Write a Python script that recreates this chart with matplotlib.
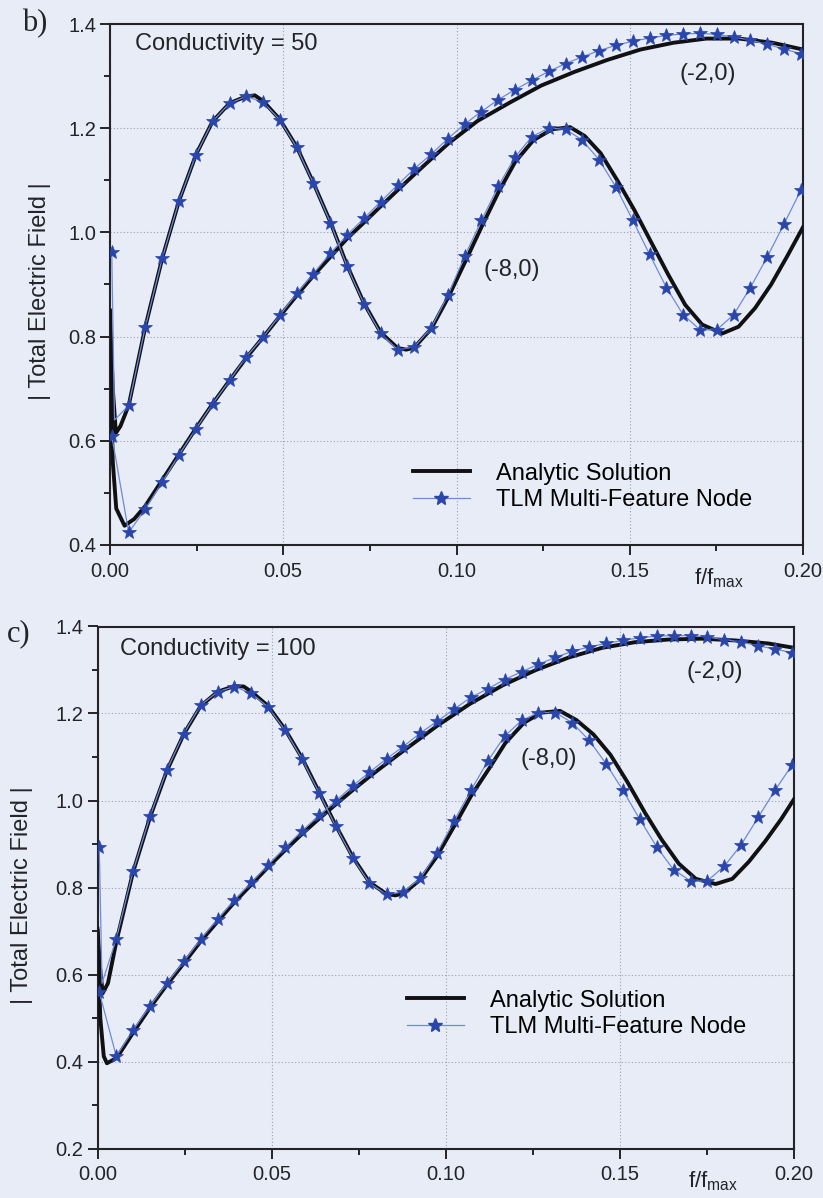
import matplotlib
matplotlib.use("Agg")
import matplotlib.pyplot as plt
from matplotlib.lines import Line2D
from matplotlib.ticker import MultipleLocator, FormatStrFormatter

# ---------------------------------------------------------------------------
# Data: |E| versus normalised frequency f/f_max at observation points (-2,0)
# and (-8,0); analytic solution vs TLM multi-feature node.
# ---------------------------------------------------------------------------

# TLM sample frequencies (same sampling in both panels)
tlm_f = [0.0005, 0.0054, 0.0102, 0.0151, 0.0199, 0.0248, 0.0296, 0.0345,
         0.0393, 0.0442, 0.0490, 0.0539, 0.0587, 0.0636, 0.0684, 0.0733,
         0.0781, 0.0830, 0.0878, 0.0927, 0.0975, 0.1024, 0.1072, 0.1121,
         0.1169, 0.1218, 0.1266, 0.1315, 0.1363, 0.1412, 0.1460, 0.1509,
         0.1557, 0.1606, 0.1654, 0.1703, 0.1751, 0.1800, 0.1848, 0.1897,
         0.1945, 0.1994]

# Unmarked TLM sample between the first two markers of the (-8,0) trace
tlm_dip_f = 0.0013
b_tlm_m8_dip = 0.640
c_tlm_m8_dip = 0.580

# Conductivity = 50
b_tlm_m8 = [0.963, 0.668, 0.819, 0.951, 1.060, 1.149, 1.213, 1.248, 1.261,
            1.250, 1.216, 1.163, 1.094, 1.019, 0.935, 0.863, 0.806, 0.775,
            0.780, 0.817, 0.879, 0.955, 1.023, 1.089, 1.145, 1.184, 1.200,
            1.198, 1.177, 1.139, 1.087, 1.023, 0.958, 0.894, 0.842, 0.813,
            0.813, 0.842, 0.894, 0.953, 1.016, 1.081]
b_tlm_m2 = [0.610, 0.424, 0.469, 0.521, 0.573, 0.623, 0.671, 0.716, 0.761,
            0.799, 0.841, 0.883, 0.921, 0.960, 0.995, 1.027, 1.059, 1.091,
            1.122, 1.150, 1.180, 1.208, 1.232, 1.255, 1.274, 1.292, 1.309,
            1.324, 1.337, 1.349, 1.359, 1.367, 1.373, 1.378, 1.381, 1.382,
            1.380, 1.375, 1.369, 1.361, 1.352, 1.343]

b_ana_m8_f = [0.0000, 0.0008, 0.0017, 0.0030, 0.0054, 0.0102, 0.0151, 0.0199,
              0.0248, 0.0296, 0.0345, 0.0393, 0.0418, 0.0442, 0.0490, 0.0539,
              0.0587, 0.0636, 0.0684, 0.0733, 0.0781, 0.0830, 0.0855, 0.0878,
              0.0927, 0.0975, 0.1026, 0.1074, 0.1121, 0.1169, 0.1222, 0.1276,
              0.1328, 0.1370, 0.1416, 0.1464, 0.1514, 0.1562, 0.1611, 0.1660,
              0.1709, 0.1767, 0.1814, 0.1862, 0.1908, 0.1955, 0.2000]
b_ana_m8 = [0.850, 0.700, 0.615, 0.628, 0.668, 0.819, 0.951, 1.060,
            1.149, 1.213, 1.248, 1.261, 1.263, 1.252, 1.217, 1.164,
            1.095, 1.020, 0.937, 0.864, 0.808, 0.778, 0.775, 0.779,
            0.815, 0.874, 0.945, 1.013, 1.077, 1.135, 1.177, 1.198,
            1.202, 1.185, 1.152, 1.100, 1.042, 0.981, 0.919, 0.861,
            0.823, 0.806, 0.819, 0.855, 0.900, 0.955, 1.010]

b_ana_m2_f = [0.0000, 0.0008, 0.0018, 0.0042, 0.0070, 0.0102, 0.0151, 0.0199,
              0.0248, 0.0296, 0.0345, 0.0393, 0.0442, 0.0490, 0.0539, 0.0587,
              0.0636, 0.0684, 0.0733, 0.0781, 0.0830, 0.0878, 0.0927, 0.0977,
              0.1061, 0.1156, 0.1245, 0.1340, 0.1435, 0.1531, 0.1626, 0.1721,
              0.1816, 0.1912, 0.2000]
b_ana_m2 = [0.800, 0.560, 0.470, 0.437, 0.450, 0.475, 0.525, 0.574,
            0.624, 0.671, 0.716, 0.759, 0.799, 0.839, 0.879, 0.917,
            0.953, 0.988, 1.019, 1.050, 1.081, 1.111, 1.141, 1.171,
            1.214, 1.250, 1.282, 1.308, 1.331, 1.351, 1.364, 1.372,
            1.372, 1.364, 1.351]

# Conductivity = 100
c_tlm_m8 = [0.892, 0.682, 0.837, 0.964, 1.070, 1.154, 1.219, 1.250, 1.262,
            1.246, 1.215, 1.161, 1.096, 1.018, 0.941, 0.868, 0.810, 0.784,
            0.790, 0.821, 0.880, 0.953, 1.023, 1.091, 1.148, 1.184, 1.202,
            1.202, 1.179, 1.138, 1.085, 1.023, 0.957, 0.893, 0.841, 0.815,
            0.815, 0.849, 0.898, 0.961, 1.023, 1.081]
c_tlm_m2 = [0.560, 0.412, 0.472, 0.528, 0.580, 0.630, 0.681, 0.727, 0.771,
            0.812, 0.852, 0.892, 0.930, 0.966, 0.999, 1.034, 1.065, 1.096,
            1.124, 1.155, 1.182, 1.210, 1.237, 1.257, 1.278, 1.296, 1.313,
            1.329, 1.343, 1.353, 1.361, 1.368, 1.374, 1.378, 1.379, 1.379,
            1.376, 1.370, 1.364, 1.356, 1.348, 1.340]

c_ana_m8_f = [0.0000, 0.0008, 0.0015, 0.0030, 0.0054, 0.0102, 0.0151, 0.0199,
              0.0248, 0.0296, 0.0345, 0.0393, 0.0420, 0.0442, 0.0490, 0.0539,
              0.0587, 0.0636, 0.0684, 0.0733, 0.0781, 0.0830, 0.0855, 0.0878,
              0.0927, 0.0974, 0.1027, 0.1073, 0.1125, 0.1171, 0.1225, 0.1275,
              0.1328, 0.1375, 0.1424, 0.1473, 0.1522, 0.1572, 0.1620, 0.1669,
              0.1718, 0.1775, 0.1823, 0.1870, 0.1917, 0.1963, 0.2000]
c_ana_m8 = [0.705, 0.610, 0.557, 0.580, 0.675, 0.835, 0.962, 1.068,
            1.153, 1.217, 1.250, 1.263, 1.262, 1.250, 1.217, 1.163,
            1.098, 1.020, 0.943, 0.870, 0.812, 0.785, 0.782, 0.786,
            0.818, 0.871, 0.945, 1.011, 1.074, 1.132, 1.179, 1.202,
            1.206, 1.185, 1.152, 1.105, 1.042, 0.972, 0.910, 0.855,
            0.820, 0.808, 0.820, 0.859, 0.906, 0.957, 1.003]

c_ana_m2_f = [0.0000, 0.0008, 0.0018, 0.0027, 0.0055, 0.0102, 0.0151, 0.0199,
              0.0248, 0.0296, 0.0345, 0.0393, 0.0442, 0.0490, 0.0539, 0.0587,
              0.0636, 0.0684, 0.0733, 0.0781, 0.0830, 0.0878, 0.0927, 0.0974,
              0.1069, 0.1164, 0.1259, 0.1354, 0.1449, 0.1544, 0.1639, 0.1734,
              0.1830, 0.1926, 0.2000]
c_ana_m2 = [0.700, 0.500, 0.412, 0.396, 0.408, 0.466, 0.524, 0.576,
            0.626, 0.676, 0.722, 0.766, 0.807, 0.847, 0.886, 0.923,
            0.958, 0.991, 1.024, 1.055, 1.085, 1.114, 1.143, 1.171,
            1.222, 1.265, 1.300, 1.329, 1.351, 1.364, 1.370, 1.372,
            1.368, 1.361, 1.351]

legend_labels = ["Analytic Solution", "TLM Multi-Feature Node"]
point_labels = ["(-2,0)", "(-8,0)"]

# ---------------------------------------------------------------------------
plt.rcParams["font.family"] = ["Liberation Sans", "DejaVu Sans"]
plt.rcParams["mathtext.fontset"] = "custom"
plt.rcParams["mathtext.rm"] = "Liberation Sans"
plt.rcParams["mathtext.it"] = "Liberation Sans"

W, H = 823, 1198
BG = "#e7ecf7"
INK = "#232328"
BLACK_LINE = "#111114"
STAR = "#2a46aa"
THIN = "#6f8ad8"

fig = plt.figure(figsize=(W / 100, H / 100), dpi=100)
fig.patch.set_facecolor(BG)


def fx(x):
    return x / W


def fy(y):
    return 1 - y / H


def make_axes(left, top, right, bottom, ylo):
    ax = fig.add_axes([fx(left), fy(bottom), (right - left) / W, (bottom - top) / H])
    ax.set_facecolor(BG)
    ax.set_xlim(0, 0.2)
    ax.set_ylim(ylo, 1.4)
    ax.xaxis.set_major_locator(MultipleLocator(0.05))
    ax.xaxis.set_minor_locator(MultipleLocator(0.025))
    ax.yaxis.set_major_locator(MultipleLocator(0.2))
    ax.yaxis.set_minor_locator(MultipleLocator(0.1))
    ax.xaxis.set_major_formatter(FormatStrFormatter("%.2f"))
    ax.yaxis.set_major_formatter(FormatStrFormatter("%.1f"))
    ax.tick_params(which="both", direction="out", colors=INK, width=1.4,
                   top=False, right=False)
    ax.tick_params(which="major", length=7, labelsize=14.5)
    ax.tick_params(which="minor", length=4)
    ax.tick_params(axis="x", which="major", pad=5)
    ax.tick_params(axis="y", which="major", pad=3)
    for s in ax.spines.values():
        s.set_color(INK)
        s.set_linewidth(1.5)
    ax.grid(True, which="major", linestyle=(0, (1, 2)), linewidth=0.8,
            color="#9aa0b4")
    ax.set_axisbelow(True)
    return ax


def draw_panel(ax, ana_m2_f, ana_m2, ana_m8_f, ana_m8, tlm_m2, tlm_m8, dip):
    for af, av in ((ana_m2_f, ana_m2), (ana_m8_f, ana_m8)):
        ax.plot(af, av, color=BLACK_LINE, lw=2.8, solid_joinstyle="round",
                zorder=3)
    style = dict(color=THIN, lw=0.9, marker="*", ms=10.5, mfc=STAR, mec=STAR,
                 mew=0.5, zorder=4)
    ax.plot(tlm_f, tlm_m2, **style)
    # (-8,0) trace: the unmarked sample sits between the first two markers
    f8 = [tlm_f[0], tlm_dip_f] + tlm_f[1:]
    v8 = [tlm_m8[0], dip] + tlm_m8[1:]
    ax.plot(f8, v8, markevery=[0] + list(range(2, len(f8))), **style)


def add_legend(ax, x_left, y_mid):
    handles = [Line2D([], [], color=BLACK_LINE, lw=2.8),
               Line2D([], [], color=THIN, lw=0.9, marker="*", ms=10.5,
                      mfc=STAR, mec=STAR)]
    ax.legend(handles, legend_labels, loc="center left",
              bbox_to_anchor=(fx(x_left), fy(y_mid)),
              bbox_transform=fig.transFigure, frameon=False, borderpad=0,
              borderaxespad=0, handlelength=2.4, handletextpad=1.1,
              labelspacing=0.2, fontsize=17)


# ---- panel b: conductivity 50 ----
ax_b = make_axes(110, 24, 803, 545, 0.4)
draw_panel(ax_b, b_ana_m2_f, b_ana_m2, b_ana_m8_f, b_ana_m8, b_tlm_m2, b_tlm_m8,
           b_tlm_m8_dip)
add_legend(ax_b, 413, 487)
fig.text(fx(135), fy(44), "Conductivity = 50", fontsize=17, color=INK,
         ha="left", va="center")
fig.text(fx(708), fy(74), point_labels[0], fontsize=17, color=INK,
         ha="center", va="center")
fig.text(fx(512), fy(270), point_labels[1], fontsize=17, color=INK,
         ha="center", va="center")
fig.text(fx(40), fy(291), "| Total Electric Field |", fontsize=17, color=INK,
         rotation=90, ha="center", va="center")
fig.text(fx(694), fy(578), r"f/f$_{\mathregular{max}}$", fontsize=16,
         color=INK, ha="left", va="center")
fig.text(fx(22), fy(24), "b)", fontsize=22, color=INK,
         family=["Liberation Serif", "DejaVu Serif"], ha="left", va="center")

# ---- panel c: conductivity 100 ----
ax_c = make_axes(97.5, 626.5, 794, 1148.5, 0.2)
draw_panel(ax_c, c_ana_m2_f, c_ana_m2, c_ana_m8_f, c_ana_m8, c_tlm_m2, c_tlm_m8,
           c_tlm_m8_dip)
add_legend(ax_c, 407, 1014)
fig.text(fx(120), fy(649), "Conductivity = 100", fontsize=17, color=INK,
         ha="left", va="center")
fig.text(fx(715), fy(672), point_labels[0], fontsize=17, color=INK,
         ha="center", va="center")
fig.text(fx(549), fy(759), point_labels[1], fontsize=17, color=INK,
         ha="center", va="center")
fig.text(fx(22), fy(895), "| Total Electric Field |", fontsize=17, color=INK,
         rotation=90, ha="center", va="center")
fig.text(fx(688), fy(1181), r"f/f$_{\mathregular{max}}$", fontsize=16,
         color=INK, ha="left", va="center")
fig.text(fx(7), fy(634), "c)", fontsize=22, color=INK,
         family=["Liberation Serif", "DejaVu Serif"], ha="left", va="center")

fig.savefig("out.png", dpi=100, facecolor=BG)
